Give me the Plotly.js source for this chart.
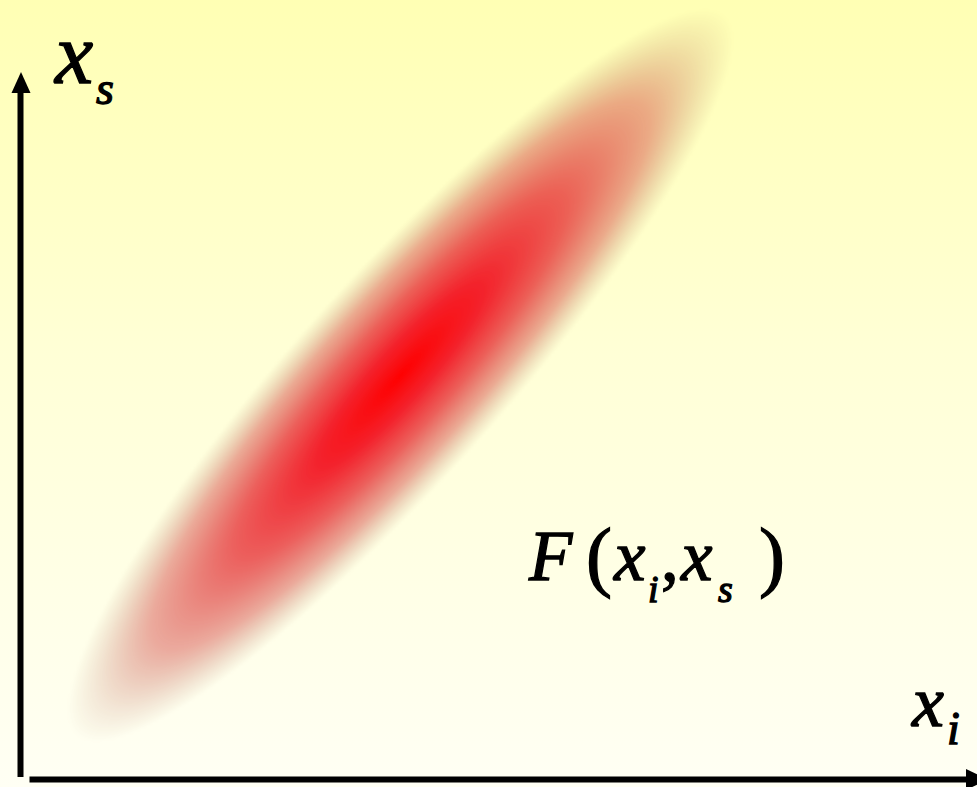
<!DOCTYPE html>
<html>
<head>
<meta charset="utf-8">
<script src="https://cdn.plot.ly/plotly-3.0.1.min.js"></script>
<style>
  html, body { margin: 0; padding: 0; }
  body {
    width: 977px; height: 787px; overflow: hidden;
    background: linear-gradient(to bottom, #FFFFB4 0%, #FFFFD6 45%, #FFFFF4 100%);
  }
  #chart { width: 977px; height: 787px; }
  /* slightly heavier strokes for the formula glyphs */
  #chart .annotation-text { stroke: #000; stroke-width: 1.3px; paint-order: stroke; }
</style>
</head>
<body>
<div id="chart"></div>
<script>
// Joint density F(xi, xs): a tilted elliptical peak (page-pixel units, y downwards)
const peakCenter = [400, 375];      // [xi, xs] of the maximum
const peakSemiAxes = [485, 102];    // half-length along and across the ridge
const peakTiltDeg = 48;             // ridge angle above the xi axis

// Fade of the peak from its centre (0) to its rim (1)
const fadeRadius = [0, 0.25, 0.5, 0.75, 0.9, 1.0];
const fadeColour = [
  'rgba(255,0,0,1)',
  'rgba(242,10,25,0.9)',
  'rgba(228,28,36,0.7)',
  'rgba(205,45,45,0.4)',
  'rgba(170,70,60,0.15)',
  'rgba(150,90,80,0)'
];

// Axis labels
const labelXs = ['x', 's'];
const labelXi = ['x', 'i'];
const labelF = ['F', '(', 'x', 'i', ',', 'x', 's', ')'];

const W = 977, H = 787, STEP = 3;
const gx = [], gy = [];
for (let x = 0; x <= W; x += STEP) gx.push(x);
for (let y = 0; y <= H; y += STEP) gy.push(y);

const t = peakTiltDeg * Math.PI / 180;
const ca = Math.cos(t), sa = Math.sin(t);
const z = gy.map(y => gx.map(x => {
  const dx = x - peakCenter[0], dy = peakCenter[1] - y;
  const u = dx * ca + dy * sa;
  const v = -dx * sa + dy * ca;
  const r = Math.sqrt((u / peakSemiAxes[0]) ** 2 + (v / peakSemiAxes[1]) ** 2);
  return Math.min(r, 1);
}));

const colorscale = fadeRadius.map((r, i) => [r, fadeColour[i]]);

const density = {
  type: 'heatmap', x: gx, y: gy, z: z,
  zmin: 0, zmax: 1, zsmooth: 'best',
  colorscale: colorscale, showscale: false, hoverinfo: 'skip'
};

const serif = '"Liberation Serif", "Times New Roman", serif';
function glyph(txt, x, baseline, size, italic) {
  return {
    xref: 'x', yref: 'y', x: x, y: baseline - 0.3375 * size,
    xanchor: 'left', yanchor: 'middle', showarrow: false, borderpad: 0,
    text: italic ? '<i>' + txt + '</i>' : txt,
    font: { family: serif, size: size, color: '#000' }
  };
}

const annotations = [
  glyph(labelXs[0], 52, 83, 86, true),
  glyph(labelXs[1], 95, 104, 46, true),
  glyph(labelXi[0], 910, 726, 72, true),
  glyph(labelXi[1], 946, 744, 46, true),
  glyph(labelF[0], 527, 580, 71, true),
  glyph(labelF[1], 585, 582, 78, false),
  glyph(labelF[2], 612, 580, 71, true),
  glyph(labelF[3], 647, 602, 38, true),
  glyph(labelF[4], 660, 580, 71, false),
  glyph(labelF[5], 679, 580, 71, true),
  glyph(labelF[6], 717, 602, 38, true),
  glyph(labelF[7], 758, 582, 78, false)
];

const shapes = [
  { type: 'line', xref: 'x', yref: 'y', x0: 20.5, y0: 777, x1: 20.5, y1: 88,
    line: { color: '#000', width: 6 } },
  { type: 'path', xref: 'x', yref: 'y', path: 'M 11.5 93 L 21 72 L 30.5 93 Z',
    fillcolor: '#000', line: { width: 0 } },
  { type: 'line', xref: 'x', yref: 'y', x0: 29.5, y0: 779.5, x1: 970, y1: 779.5,
    line: { color: '#000', width: 6 } },
  { type: 'path', xref: 'x', yref: 'y', path: 'M 966 769 L 988 779.5 L 966 790 Z',
    fillcolor: '#000', line: { width: 0 } }
];

const layout = {
  width: W, height: H,
  margin: { l: 0, r: 0, t: 0, b: 0, pad: 0 },
  paper_bgcolor: 'rgba(0,0,0,0)', plot_bgcolor: 'rgba(0,0,0,0)',
  xaxis: { range: [0, W], visible: false, fixedrange: true },
  yaxis: { range: [H, 0], visible: false, fixedrange: true },
  showlegend: false,
  annotations: annotations,
  shapes: shapes
};

Plotly.newPlot('chart', [density], layout, { staticPlot: true, displayModeBar: false });
</script>
</body>
</html>
